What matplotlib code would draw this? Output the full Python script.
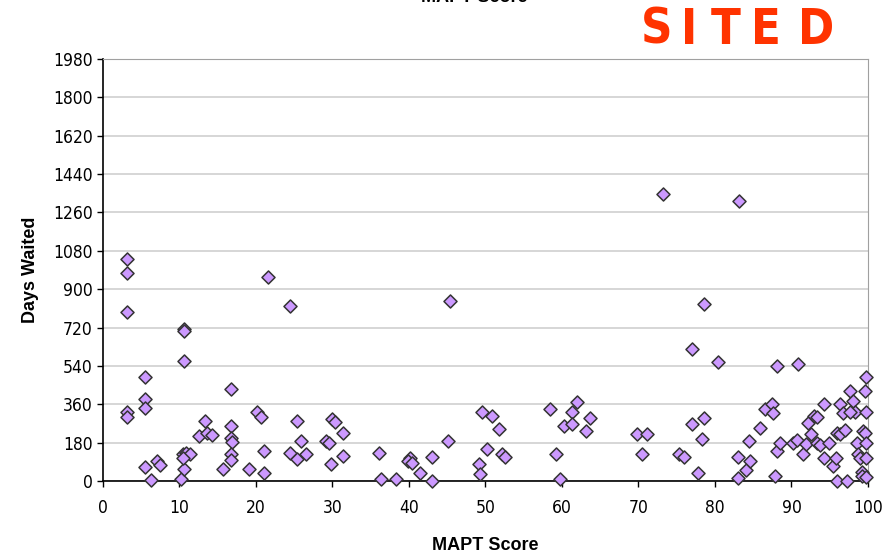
import matplotlib
matplotlib.use('Agg')
import matplotlib.pyplot as plt
import numpy as np

plt.rcParams['font.family'] = ['DejaVu Sans']
plt.rcParams['font.stretch'] = 'condensed'

# MAPT score vs days waited
mapt = [3.1, 3.1, 3.1, 3.1, 3.1,
        5.5, 5.5, 5.5, 5.5, 6.3, 7.0, 7.5,
        10.2, 10.6, 10.6, 10.6, 10.5, 10.9, 11.4, 10.6, 10.5,
        12.5, 13.3, 13.6, 14.2, 15.7,
        16.7, 16.7, 16.7, 16.8, 16.7, 16.7, 19.1,
        20.1, 20.7, 21.0, 21.0, 21.6, 24.4, 24.4, 25.3, 25.4, 25.9, 26.5,
        30.0, 30.3, 29.2, 29.5, 31.4, 31.4, 29.8,
        36.1, 36.3, 38.3, 40.1, 39.9, 40.4, 41.4, 43.0, 43.0,
        45.1, 45.3, 49.1, 49.3, 49.5, 50.8, 51.8, 50.2, 52.2, 52.5,
        58.4, 59.2, 59.7, 60.2, 61.3, 62.0, 61.3, 63.6, 63.1,
        69.8, 71.1, 70.4, 73.2, 75.3, 75.9,
        77.0, 78.5, 78.3, 77.8, 77.0, 78.5, 80.4, 83.2,
        83.0, 83.0, 84.0, 84.6, 84.4, 85.9, 86.5, 87.5, 87.6, 88.1, 87.9, 88.1, 88.5,
        90.8, 90.2, 90.7, 91.5, 91.9, 92.1, 92.5, 92.9, 93.4, 94.2,
        93.3, 93.7, 94.3, 94.9, 95.4, 95.8, 95.9, 95.9, 97.2,
        96.3, 96.7, 96.3, 97.0, 97.6, 98.1, 98.3, 97.6,
        98.5, 98.7, 98.9, 99.2, 99.2, 99.7,
        99.4, 99.6, 99.6, 99.7, 99.7, 99.7, 99.7]
days = [1042, 977, 792, 322, 302,
        487, 385, 341, 64, 5, 94, 75,
        8, 712, 705, 563, 127, 131, 127, 55, 109,
        211, 282, 227, 216, 55,
        432, 260, 200, 184, 125, 99, 55,
        322, 302, 141, 39, 956, 823, 133, 103, 283, 188, 125,
        291, 275, 188, 177, 227, 117, 78,
        133, 8, 8, 109, 94, 83, 39, 111, 0,
        188, 845, 78, 31, 322, 306, 243, 149, 125, 114,
        336, 125, 8, 260, 322, 369, 267, 297, 235,
        219, 219, 125, 1347, 127, 114,
        266, 297, 196, 39, 619, 831, 557, 1315,
        111, 16, 52, 94, 188, 250, 338, 360, 318, 540, 23, 141, 180,
        549, 180, 192, 125, 172, 271, 221, 305, 302, 360,
        180, 169, 109, 180, 72, 109, 223, 0, 0,
        360, 320, 219, 239, 422, 375, 322, 322,
        180, 125, 109, 44, 23, 20,
        235, 223, 422, 487, 322, 180, 109]

x_ticks = np.arange(0, 101, 10)
y_ticks = np.arange(0, 1981, 180)

fig = plt.figure(figsize=(8.94, 5.52), dpi=100)
ax = fig.add_axes([0.1152, 0.1286, 0.8557, 0.7645])

ax.scatter(mapt, days, marker='D', s=44, facecolor='#CC99FF',
           edgecolor='#333333', linewidth=1.1, zorder=3, clip_on=False)

ax.set_xlim(0, 100)
ax.set_ylim(0, 1980)
ax.set_xticks(x_ticks)
ax.set_yticks(y_ticks)
ax.yaxis.grid(True, color='#CCCCCC', linewidth=1.1)
ax.set_axisbelow(True)

ax.spines['top'].set_color('#A0A0A0')
ax.spines['right'].set_color('#A0A0A0')
ax.spines['left'].set_linewidth(1.2)
ax.spines['bottom'].set_linewidth(1.2)
ax.tick_params(axis='both', direction='out', length=4, width=1, labelsize=12.5)
ax.tick_params(axis='x', pad=9)

ax.set_xlabel('MAPT Score', fontsize=13, fontweight='bold', labelpad=14,
              family=['Liberation Sans', 'DejaVu Sans'])
ax.set_ylabel('Days Waited', fontsize=13, fontweight='bold', labelpad=10,
              family=['Liberation Sans', 'DejaVu Sans'])

fig.text(0.531, 1.005, 'MAPT Score', ha='center', va='center', fontsize=13,
         fontweight='bold', family=['Liberation Sans', 'DejaVu Sans'])

# the "SITE D" stamp is letter-spaced, so place letters one by one
stamp = ['S', 'I', 'T', 'E', 'D']
stamp_x = [657, 689, 726, 766, 816]
for ch, px in zip(stamp, stamp_x):
    fig.text(px / 894, 1 - 29.5 / 552, ch, ha='center', va='center',
             fontsize=35, fontweight='bold', color='#FF3300')

fig.savefig('out.png', dpi=100)
